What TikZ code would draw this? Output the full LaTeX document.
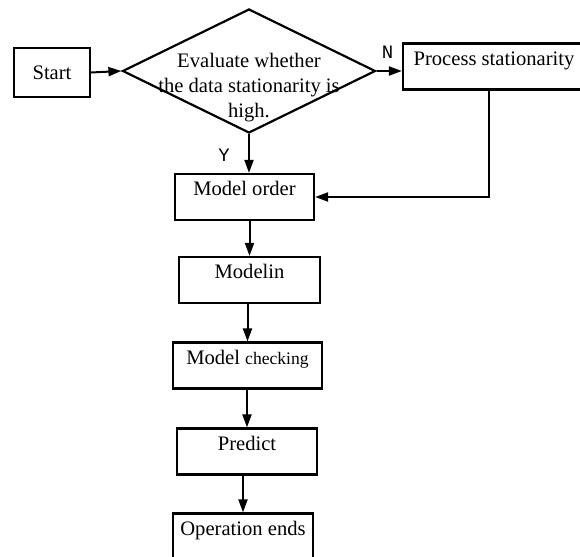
\documentclass[tikz,border=0pt]{standalone}
\usepackage{fontspec}
\setmainfont{Liberation Serif}
\newfontfamily\flagfont{Liberation Mono}
\usetikzlibrary{shapes.geometric, arrows.meta, positioning, calc}

\begin{document}
\begin{tikzpicture}[
  x=0.5pt, y=-0.5pt,
  every node/.style={font=\fontsize{10.3}{12.5}\selectfont},
  startbox/.style={rectangle, draw=black, line width=1.1pt, fill=white,
    minimum width=38pt, minimum height=24.5pt, inner sep=0pt},
  stepbox/.style={rectangle, draw=black, line width=1.1pt, fill=white,
    minimum width=#1, minimum height=23pt, inner sep=0pt,
    text height=7pt, text depth=8.2pt},
  decision/.style={diamond, draw=black, line width=1.1pt,
    minimum width=126.5pt, minimum height=62pt, inner sep=0pt},
  flag/.style={font=\flagfont\fontsize{9.5}{10}\selectfont, inner sep=0pt},
  arr/.style={-{Triangle[length=6.5pt, width=4.5pt]}, line width=1pt}
]
\useasboundingbox (0,0) rectangle (580,557);

% ===== DECISION ROW =====
\node[startbox] (start) at (52,72.5) {Start};
\node[decision] (eval) at (249,71) {};
\node[align=center, inner sep=0pt] (evaltext) at (249,88)
  {Evaluate whether\\the data stationarity is\\high.};
\node[stepbox=91pt] (process) at (494,66.5) {Process stationarity};
\draw[arr] (start.east) -- (eval.west);
\draw[arr] (eval.east) -- (eval.east -| process.west);
\node[flag] (lblN) at ([xshift=5.5pt, yshift=9.5pt]eval.east) {N};

% ===== MAIN CHAIN =====
\node[stepbox=69.5pt] (order) at (244.5,197) {Model order};
\node[stepbox=70.5pt] (modelin) at (249.5,280) {Modelin};
\node[stepbox=74.5pt] (check) at (247.5,365.5) {Model {\fontsize{8.8}{10}\selectfont checking}};
\node[stepbox=70pt] (predict) at (247,451.5) {Predict};
\node[stepbox=70pt] (ends) at (243,536.5) {Operation ends};
\draw[arr] (eval.south) -- (eval.south |- order.north);
\node[flag] (lblY) at ([xshift=-12.5pt, yshift=-10.5pt]eval.south) {Y};
\draw[arr] (modelin.north |- order.south) -- (modelin.north);
\draw[arr] (check.north |- modelin.south) -- (check.north);
\draw[arr] (predict.north |- check.south) -- (predict.north);
\draw[arr] (ends.north |- predict.south) -- (ends.north);

% ===== FEEDBACK =====
\draw[arr] ([xshift=-2.5pt]process.south) |- (order.east);
\end{tikzpicture}
\end{document}
